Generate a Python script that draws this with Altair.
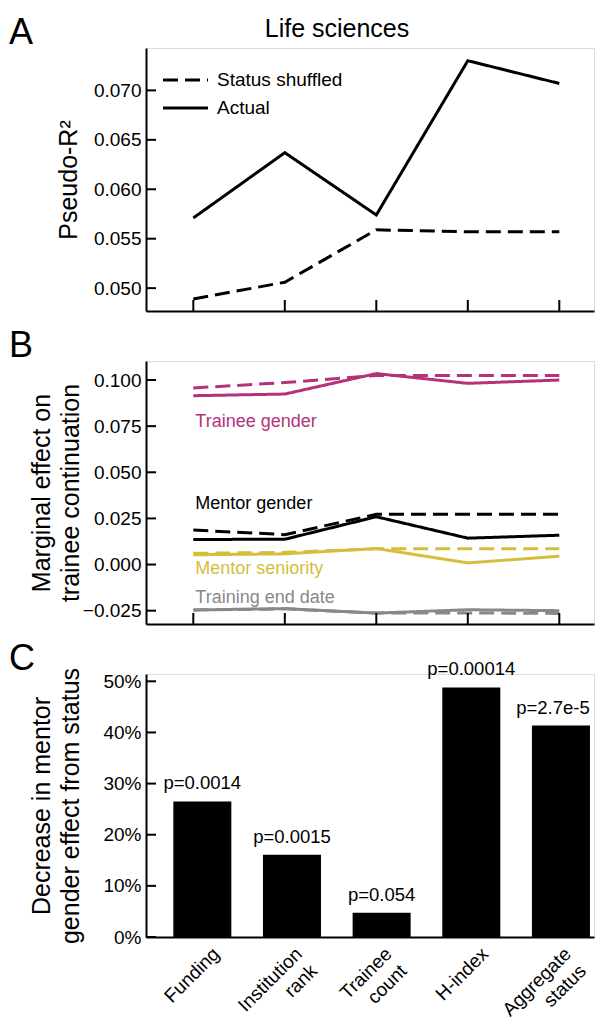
import altair as alt
import pandas as pd

FONT = "Liberation Sans"

# ---------------- data ----------------
X_INDEX = [0, 1, 2, 3, 4]
STATUS_VARS = ["Funding", "Institution rank", "Trainee count", "H-index", "Aggregate status"]
SERIES = ["Status shuffled", "Actual"]
PANEL_TITLE = "Life sciences"

# Panel A
R2_SHUFFLED = [0.0489, 0.0506, 0.0559, 0.0557, 0.0557]
R2_ACTUAL = [0.0571, 0.0637, 0.0574, 0.0730, 0.0707]
R2_TICKS = [0.050, 0.055, 0.060, 0.065, 0.070]

# Panel B
PREDICTORS = ["Trainee gender", "Mentor gender", "Mentor seniority", "Training end date"]
PRED_COLORS = ["#b4327a", "#000000", "#d4be3c", "#888888"]
TRAINEE_GENDER_ACTUAL = [0.0915, 0.0924, 0.1035, 0.0982, 0.1000]
TRAINEE_GENDER_SHUFFLED = [0.0957, 0.0986, 0.1025, 0.1025, 0.1025]
MENTOR_GENDER_ACTUAL = [0.0136, 0.0137, 0.0259, 0.0143, 0.0159]
MENTOR_GENDER_SHUFFLED = [0.0187, 0.0162, 0.0272, 0.0273, 0.0273]
MENTOR_SENIORITY_ACTUAL = [0.0053, 0.0058, 0.0087, 0.0009, 0.0045]
MENTOR_SENIORITY_SHUFFLED = [0.0061, 0.0066, 0.0085, 0.0085, 0.0085]
END_DATE_ACTUAL = [-0.0246, -0.0239, -0.0263, -0.0245, -0.0250]
END_DATE_SHUFFLED = [-0.0246, -0.0240, -0.0263, -0.0262, -0.0265]
ME_TICKS = [-0.025, 0.0, 0.025, 0.050, 0.075, 0.100]

# Panel C
DECREASE = [0.265, 0.161, 0.0475, 0.488, 0.4135]
P_VALUES = ["p=0.0014", "p=0.0015", "p=0.054", "p=0.00014", "p=2.7e-5"]
PCT_TICKS = [0.0, 0.1, 0.2, 0.3, 0.4, 0.5]

PANEL_LETTERS = ["A", "B", "C"]

# ---------------- layout ----------------
W = 448
H = 263

xs_ab = alt.Scale(domain=[-0.517, -0.517 + W / 91.5], nice=False, zero=False)
xs_c = alt.Scale(domain=[-0.5725, -0.5725 + W / 91.7], nice=False, zero=False)
ys_a = alt.Scale(domain=[0.04769, 0.074286], nice=False, zero=False)
ys_b = alt.Scale(domain=[-0.03222, 0.11031], nice=False, zero=False)
ys_c = alt.Scale(domain=[0.0, 0.5143], nice=False, zero=False)

DASH = [15, 7]
dash_scale = alt.Scale(domain=SERIES, range=[DASH, [1, 0]])


def y_axis(values, fmt, title, title_x):
    return alt.Axis(
        values=values, format=fmt, ticks=False, grid=False,
        labelFont=FONT, labelFontSize=19, labelColor="black", labelPadding=5,
        labelFlush=False, labelOverlap=False,
        domainColor="black", domainWidth=2,
        title=title, titleFont=FONT, titleFontSize=25, titleFontWeight="normal",
        titleColor="black", titleAngle=270, titleAlign="center",
        titleBaseline="alphabetic", titleX=title_x, titleY=H / 2, titleLineHeight=29,
    )


x_axis_plain = alt.Axis(values=X_INDEX, labels=False, ticks=False, title=None, grid=False,
                        domainColor="black", domainWidth=2)


def y_ticks(values, scale):
    return alt.Chart(pd.DataFrame({"value": values})).mark_rule(color="black", strokeWidth=2).encode(
        y=alt.Y("value:Q", scale=scale), x=alt.value(0), x2=alt.value(10))


def x_ticks(values, scale):
    return alt.Chart(pd.DataFrame({"idx": values})).mark_rule(color="black", strokeWidth=2).encode(
        x=alt.X("idx:Q", scale=scale), y=alt.value(H), y2=alt.value(H - 11))


def letter(ch):
    return alt.Chart(pd.DataFrame({"t": [ch]})).mark_text(
        font=FONT, fontSize=36, align="left", baseline="alphabetic", color="black"
    ).encode(text="t:N", x=alt.value(-137), y=alt.value(-4))


# ---------------- panel A ----------------
df_a = pd.DataFrame({
    "idx": X_INDEX * 2,
    "value": R2_SHUFFLED + R2_ACTUAL,
    "series": [SERIES[0]] * 5 + [SERIES[1]] * 5,
})

lines_a = alt.Chart(df_a).mark_line(color="black", strokeWidth=3).encode(
    x=alt.X("idx:Q", scale=xs_ab, axis=x_axis_plain),
    y=alt.Y("value:Q", scale=ys_a, axis=y_axis(R2_TICKS, ".3f", "Pseudo-R²", -70)),
    strokeDash=alt.StrokeDash("series:N", scale=dash_scale, legend=None),
)

legend_layers = []
for k, name in enumerate(SERIES):
    src = pd.DataFrame({"t": [name]})
    yk = 32 + 28 * k
    legend_layers.append(
        alt.Chart(src).mark_rule(color="black", strokeWidth=3,
                                 strokeDash=DASH if k == 0 else [1, 0]).encode(
            x=alt.value(17), x2=alt.value(62), y=alt.value(yk))
    )
    legend_layers.append(
        alt.Chart(src).mark_text(font=FONT, fontSize=19, align="left", baseline="middle",
                                 color="black").encode(
            text="t:N", x=alt.value(71), y=alt.value(yk))
    )

title_a = alt.Chart(pd.DataFrame({"t": [PANEL_TITLE]})).mark_text(
    font=FONT, fontSize=25, align="center", baseline="alphabetic", color="black"
).encode(text="t:N", x=alt.value(191), y=alt.value(-11))

panel_a = alt.layer(
    lines_a, y_ticks(R2_TICKS, ys_a), x_ticks(X_INDEX, xs_ab), *legend_layers, title_a,
    letter(PANEL_LETTERS[0])
).properties(width=W, height=H)

# ---------------- panel B ----------------
b_series = [
    (PREDICTORS[0], TRAINEE_GENDER_ACTUAL, TRAINEE_GENDER_SHUFFLED),
    (PREDICTORS[1], MENTOR_GENDER_ACTUAL, MENTOR_GENDER_SHUFFLED),
    (PREDICTORS[2], MENTOR_SENIORITY_ACTUAL, MENTOR_SENIORITY_SHUFFLED),
    (PREDICTORS[3], END_DATE_ACTUAL, END_DATE_SHUFFLED),
]
rows = []
for name, act, shuf in b_series:
    for i, v in zip(X_INDEX, shuf):
        rows.append({"predictor": name, "series": SERIES[0], "idx": i, "value": v})
    for i, v in zip(X_INDEX, act):
        rows.append({"predictor": name, "series": SERIES[1], "idx": i, "value": v})
df_b = pd.DataFrame(rows)

lines_b = alt.Chart(df_b).mark_line(strokeWidth=3).encode(
    x=alt.X("idx:Q", scale=xs_ab, axis=x_axis_plain),
    y=alt.Y("value:Q", scale=ys_b,
            axis=y_axis(ME_TICKS, ".3f", ["Marginal effect on", "trainee continuation"], -97)),
    color=alt.Color("predictor:N", scale=alt.Scale(domain=PREDICTORS, range=PRED_COLORS), legend=None),
    strokeDash=alt.StrokeDash("series:N", scale=dash_scale, legend=None),
)

label_dy = [31, -30, 19, -7]
b_labels = []
for (name, act, shuf), col, dy in zip(b_series, PRED_COLORS, label_dy):
    b_labels.append(
        alt.Chart(pd.DataFrame({"idx": [X_INDEX[0]], "value": [act[0]], "label": [name]})).mark_text(
            font=FONT, fontSize=18, align="left", baseline="alphabetic", color=col, dx=2, dy=dy
        ).encode(
            x=alt.X("idx:Q", scale=xs_ab),
            y=alt.Y("value:Q", scale=ys_b),
            text="label:N",
        )
    )

panel_b = alt.layer(
    lines_b, *b_labels, y_ticks(ME_TICKS, ys_b), x_ticks(X_INDEX, xs_ab), letter(PANEL_LETTERS[1])
).properties(width=W, height=H)

# ---------------- panel C ----------------
df_c = pd.DataFrame({"idx": X_INDEX, "value": DECREASE, "p": P_VALUES})
words = [s.split(" ") for s in STATUS_VARS]
df_lab = pd.DataFrame({
    "idx": X_INDEX,
    "l1": [w[0] for w in words],
    "l2": [w[1] if len(w) > 1 else "" for w in words],
})

bars = alt.Chart(df_c).mark_bar(size=58, color="black").encode(
    x=alt.X("idx:Q", scale=xs_c, axis=x_axis_plain),
    y=alt.Y("value:Q", scale=ys_c,
            axis=y_axis(PCT_TICKS, ".0%", ["Decrease in mentor", "gender effect from status"], -97)),
)


def ptext(cond, dx):
    return alt.Chart(df_c).transform_filter(cond).mark_text(
        font=FONT, fontSize=18.5, align="center", baseline="alphabetic", color="black",
        dy=-12, dx=dx
    ).encode(
        x=alt.X("idx:Q", scale=xs_c),
        y=alt.Y("value:Q", scale=ys_c),
        text="p:N",
    )


p_layers = [ptext(f"datum.idx < {X_INDEX[-1]}", 0), ptext(f"datum.idx == {X_INDEX[-1]}", -8)]


def xlab(col, cond, x_off, dyy):
    return alt.Chart(df_lab).transform_filter(cond).mark_text(
        font=FONT, fontSize=19, angle=315, align="right", baseline="middle",
        color="black", xOffset=x_off, dy=dyy
    ).encode(
        x=alt.X("idx:Q", scale=xs_c),
        y=alt.value(H + 14),
        text=f"{col}:N",
    )


xlab_layers = [
    xlab("l1", "datum.l2 == ''", 14, 0),
    xlab("l1", "datum.l2 != ''", 7, 0),
    xlab("l2", "datum.l2 != ''", 5, 24),
]

panel_c = alt.layer(
    bars, *p_layers, *xlab_layers, y_ticks(PCT_TICKS, ys_c), letter(PANEL_LETTERS[2])
).properties(width=W, height=H)

chart = alt.vconcat(panel_a, panel_b, panel_c, spacing=50, bounds="flush").properties(
    padding={"left": 0, "top": 6, "right": 0, "bottom": 0}
).configure_view(strokeWidth=0).configure(font=FONT)

chart.save("out.html", embed_options={"renderer": "svg", "actions": False})
